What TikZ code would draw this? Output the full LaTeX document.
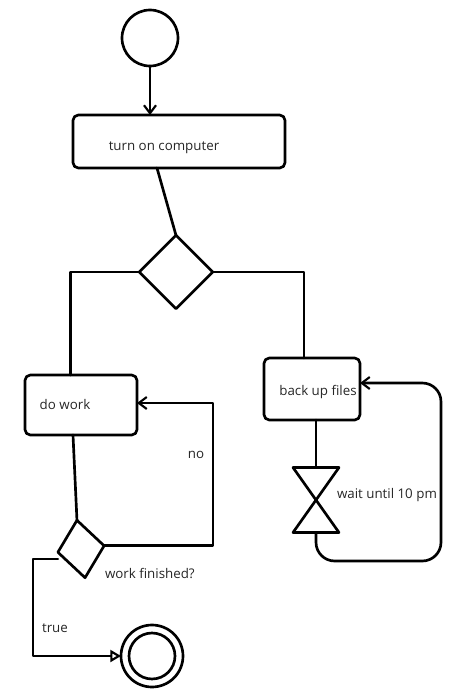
\documentclass[tikz,border=0pt]{standalone}
\usepackage{fontspec}
\setmainfont{Open Sans}
\usetikzlibrary{shapes.geometric,arrows.meta}
\begin{document}
\begin{tikzpicture}[x=0.75pt,y=-0.75pt,
  line width=2pt, line join=round, line cap=round,
  every node/.style={inner sep=0pt, outer sep=0pt},
  startnode/.style={draw, circle, minimum size=42pt},
  actbox/.style={draw, rectangle, rounded corners=4pt},
  decision/.style={draw, diamond},
  txt/.style={font=\fontsize{10}{12}\selectfont, text=black!85},
  flow/.style={-{Straight Barb[length=6pt,width=9pt,line width=1.6pt]}},
  endflow/.style={-{Triangle[open,length=8pt,width=9pt,line width=1.6pt]}}
]
\useasboundingbox (0,0) rectangle (474,690);

% nodes
\node[startnode] (start) at (150,38) {};
\node[actbox, minimum width=159pt, minimum height=39.75pt] (comp) at (179,141.5) {};
\node[txt] (compT) at (164,148) {turn on computer};
\node[decision, minimum width=55pt, minimum height=55pt] (d1) at (176,272) {};
\node[actbox, minimum width=84pt, minimum height=45pt] (work) at (81,405) {};
\node[txt] (workT) at (65,404) {do work};
\node[actbox, minimum width=72pt, minimum height=46.5pt] (backup) at (312,389) {};
\node[txt] (backupT) at (318,392) {back up files};
\node[decision, minimum width=35pt, minimum height=43.5pt, rotate=8] (d2) at (81,549) {};
\node[txt, anchor=west] (d2T) at (105,573) {work finished?};
\node[minimum width=34.5pt, minimum height=48.75pt] (wait) at (316,500) {};
\draw (wait.north west) -- (wait.north east) -- (wait.south west) -- (wait.south east) -- cycle;
\node[txt, anchor=west] (waitT) at (337,495) {wait until 10 pm};
\node[draw, circle, minimum size=46.5pt] (fin) at (152,656) {};
\draw (fin.center) circle[radius=17.25pt];
\node[txt] (noT) at (196,455) {no};
\node[txt] (trueT) at (55,628) {true};

% helper coordinates
\coordinate (noR) at (213,403);
\coordinate (trueC) at (33,656);
\coordinate (lpA) at (316,561);
\coordinate (lpC) at (441,383);

% connectors
\draw[flow] (start) -- (start |- comp.north);
\draw ([xshift=-16.5pt]comp.south) -- (d1.north);
\draw (d1.west) -| ([xshift=-8pt]work.north);
\draw (d1.east) -| ([xshift=-6pt]backup.north);
\draw ([xshift=-6pt]work.south) -- (d2.north);
\draw[flow] (d2.east) -| (noR) -- (noR -| work.east);
\draw[endflow] ([yshift=-5pt]d2.west) -| (trueC) -- (fin.west);
\draw (wait.north |- backup.south) -- (wait.north);
\draw[flow, rounded corners=14pt] (wait.south) -- (lpA) -| (lpC) -- (lpC -| backup.east);
\end{tikzpicture}
\end{document}
